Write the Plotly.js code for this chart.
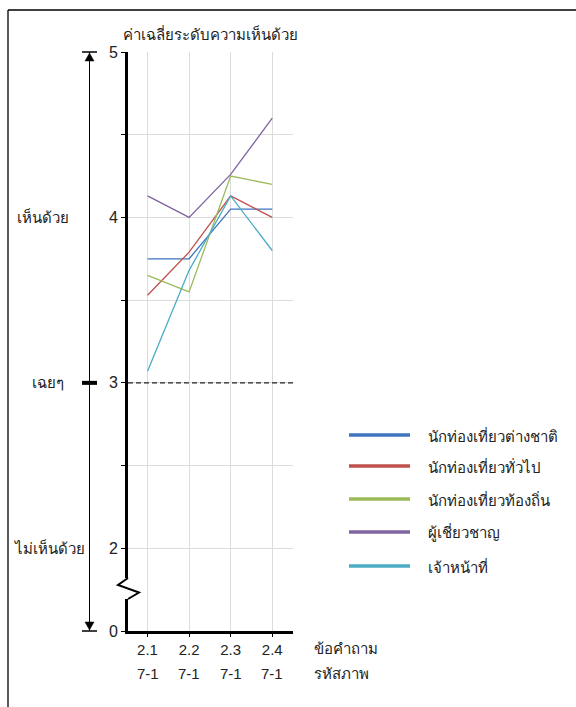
<!DOCTYPE html>
<html><head><meta charset="utf-8">
<script src="https://cdn.plot.ly/plotly-3.0.1.min.js"></script>
<style>html,body{margin:0;padding:0;background:#fff}</style>
</head><body>
<div id="chart" style="width:576px;height:707px"></div>
<script>
// ---- data ----
var questionCodes = ["2.1", "2.2", "2.3", "2.4"];
var imageCodes = ["7-1", "7-1", "7-1", "7-1"];
var seriesNames = ["นักท่องเที่ยวต่างชาติ", "นักท่องเที่ยวทั่วไป", "นักท่องเที่ยวท้องถิ่น", "ผู้เชี่ยวชาญ", "เจ้าหน้าที่"];
var foreignTourists = [3.75, 3.75, 4.05, 4.05];
var generalTourists = [3.53, 3.79, 4.13, 4.00];
var localTourists = [3.65, 3.55, 4.25, 4.20];
var experts = [4.13, 4.00, 4.26, 4.60];
var officials = [3.07, 3.68, 4.13, 3.80];
var seriesColors = ["#3F74BF", "#C0504D", "#9BBB59", "#8064A2", "#4BACC6"];
var yTickVals = [1.5, 2, 2.5, 3, 3.5, 4, 4.5, 5];
var yTickText = ["0", "2", "", "3", "", "4", "", "5"];
var scaleLabels = ["เห็นด้วย", "เฉยๆ", "ไม่เห็นด้วย"];
var scaleLabelValues = [4, 3, 2];
var chartTitle = "ค่าเฉลี่ยระดับความเห็นด้วย";
var xTitle1 = "ข้อคำถาม";
var xTitle2 = "รหัสภาพ";

var allSeries = [foreignTourists, generalTourists, localTourists, experts, officials];
var FONT = "Liberation Sans, Arial, Tahoma, sans-serif";

// geometry helpers (pixel -> paper)
var L = 128, R = 293, T = 52, B = 631, W = 576, H = 707;
function xp(px) { return (px - L) / (R - L); }
function yp(py) { return (B - py) / (B - T); }

var traces = allSeries.map(function (vals, i) {
  return {
    type: "scatter", mode: "lines", x: questionCodes, y: vals,
    name: seriesNames[i], line: { color: seriesColors[i], width: 1.3 },
    showlegend: false, hoverinfo: "x+y+name"
  };
});

var shapes = [];
var annotations = [];

// neutral dashed line at 3
shapes.push({ type: "line", xref: "paper", yref: "y", x0: 0, x1: 1, y0: 3, y1: 3,
  line: { color: "#222", width: 1.3, dash: "5px,3px" }, layer: "above" });

// axis break on y axis
shapes.push({ type: "rect", xref: "paper", yref: "paper", x0: xp(124), x1: xp(133), y0: yp(599), y1: yp(578),
  fillcolor: "#fff", line: { width: 0 }, layer: "above" });
shapes.push({ type: "path", xref: "paper", yref: "paper",
  path: "M" + xp(128) + "," + yp(578) + " L" + xp(118) + "," + yp(585) + " L" + xp(139) + "," + yp(592.5) + " L" + xp(128) + "," + yp(599),
  line: { color: "#000", width: 2 }, layer: "above" });

// left scale arrow
var ax = 89.5;
shapes.push({ type: "line", xref: "paper", yref: "paper", x0: xp(ax), x1: xp(ax), y0: yp(52), y1: yp(631),
  line: { color: "#000", width: 1 } });
shapes.push({ type: "line", xref: "paper", yref: "paper", x0: xp(82), x1: xp(97), y0: yp(52), y1: yp(52),
  line: { color: "#000", width: 1.5 } });
shapes.push({ type: "line", xref: "paper", yref: "paper", x0: xp(82), x1: xp(97), y0: yp(631), y1: yp(631),
  line: { color: "#000", width: 1.5 } });
shapes.push({ type: "path", xref: "paper", yref: "paper",
  path: "M" + xp(ax) + "," + yp(53) + " L" + xp(ax - 4.5) + "," + yp(61) + " L" + xp(ax + 4.5) + "," + yp(61) + " Z",
  fillcolor: "#000", line: { color: "#000", width: 0.5 } });
shapes.push({ type: "path", xref: "paper", yref: "paper",
  path: "M" + xp(ax) + "," + yp(630) + " L" + xp(ax - 4.5) + "," + yp(622) + " L" + xp(ax + 4.5) + "," + yp(622) + " Z",
  fillcolor: "#000", line: { color: "#000", width: 0.5 } });
shapes.push({ type: "line", xref: "paper", yref: "y", x0: xp(82), x1: xp(97), y0: 3, y1: 3,
  line: { color: "#000", width: 4 } });

// frame (top & left)
shapes.push({ type: "line", xref: "paper", yref: "paper", x0: xp(8), x1: xp(576), y0: yp(10), y1: yp(10),
  line: { color: "#000", width: 1.3 } });
shapes.push({ type: "line", xref: "paper", yref: "paper", x0: xp(8), x1: xp(8), y0: yp(10), y1: yp(707),
  line: { color: "#000", width: 1.3 } });

// scale labels
var scaleX = [43, 48, 49];
scaleLabels.forEach(function (t, i) {
  annotations.push({ text: t, xref: "paper", yref: "y", x: xp(scaleX[i]), y: scaleLabelValues[i],
    showarrow: false, xanchor: "center", yanchor: "middle", font: { family: FONT, size: 15, color: "#222" } });
});

// second row of x labels (category index positions)
questionCodes.forEach(function (q, i) {
  annotations.push({ text: imageCodes[i], xref: "x", yref: "paper", x: i, y: yp(673),
    showarrow: false, xanchor: "center", yanchor: "middle", font: { family: FONT, size: 15, color: "#222" } });
});
annotations.push({ text: xTitle1, xref: "paper", yref: "paper", x: xp(312), y: yp(648), showarrow: false,
  xanchor: "left", yanchor: "middle", font: { family: FONT, size: 15, color: "#222" } });
annotations.push({ text: xTitle2, xref: "paper", yref: "paper", x: xp(312), y: yp(673), showarrow: false,
  xanchor: "left", yanchor: "middle", font: { family: FONT, size: 15, color: "#222" } });

// legend (manual)
var legY = [435, 466, 499, 532, 566];
seriesNames.forEach(function (n, i) {
  shapes.push({ type: "line", xref: "paper", yref: "paper", x0: xp(349), x1: xp(410), y0: yp(legY[i]), y1: yp(legY[i]),
    line: { color: seriesColors[i], width: 3.5 } });
  annotations.push({ text: n, xref: "paper", yref: "paper", x: xp(426), y: yp(legY[i]), showarrow: false,
    xanchor: "left", yanchor: "middle", font: { family: FONT, size: 15, color: "#222" } });
});

var layout = {
  width: W, height: H,
  margin: { l: L, r: W - R, t: T, b: H - B, pad: 0 },
  paper_bgcolor: "#fff", plot_bgcolor: "#fff",
  showlegend: false,
  title: { text: chartTitle, x: 210 / W, xanchor: "center", xref: "container", y: 1 - 35 / H, yanchor: "middle",
    font: { family: FONT, size: 15, color: "#222" } },
  xaxis: {
    type: "category", range: [-0.47, 3.5], showgrid: true, gridcolor: "#dcdcdc", gridwidth: 1,
    showline: true, linecolor: "#000", linewidth: 3, ticks: "outside", ticklen: 3, tickwidth: 1, tickcolor: "#000",
    tickfont: { family: FONT, size: 15, color: "#222" }, zeroline: false, fixedrange: true
  },
  yaxis: {
    range: [1.5, 5], tickmode: "array", tickvals: yTickVals, ticktext: yTickText,
    showgrid: true, gridcolor: "#dcdcdc", gridwidth: 1, zeroline: false,
    showline: true, linecolor: "#000", linewidth: 3, ticks: "outside", ticklen: 4, tickwidth: 1, tickcolor: "#000",
    tickfont: { family: FONT, size: 16, color: "#222" }, fixedrange: true
  },
  shapes: shapes,
  annotations: annotations
};

Plotly.newPlot("chart", traces, layout, { displayModeBar: false, staticPlot: true });
</script>
</body></html>
